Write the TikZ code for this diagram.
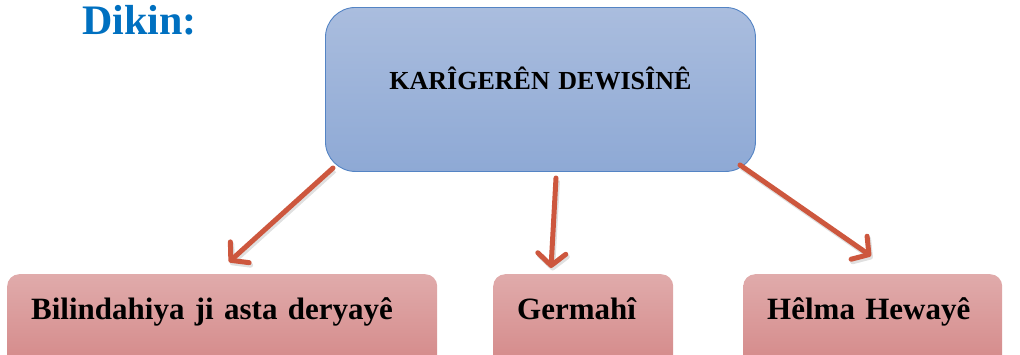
\documentclass[tikz,border=0pt]{standalone}
\usepackage{fontspec}
\setmainfont{Liberation Serif}
\usetikzlibrary{arrows.meta}
\definecolor{dikinblue}{RGB}{0,112,192}
\definecolor{topA}{RGB}{170,189,222}
\definecolor{topB}{RGB}{142,169,213}
\definecolor{topline}{RGB}{84,132,196}
\definecolor{boxA}{RGB}{224,171,171}
\definecolor{boxB}{RGB}{212,136,136}
\definecolor{arrowc}{RGB}{205,87,62}
\tikzset{
  mainbox/.style={draw=topline, line width=0.9pt, rounded corners=30pt,
    top color=topA, bottom color=topB, inner sep=0pt, anchor=north west,
    align=center, font=\fontsize{26}{30}\selectfont\bfseries},
  subbox/.style={rounded corners=12pt, top color=boxA, bottom color=boxB,
    inner xsep=24pt, inner ysep=0pt, anchor=north west, align=left,
    text height=45pt, text depth=50pt,
    font=\fontsize{31}{36}\selectfont\bfseries},
  conn/.style={arrowc, line width=5pt, line cap=round,
    -{Straight Barb[length=12pt,width=28pt,line cap=round,line join=round]},
    preaction={draw=black!35, opacity=0.35, line width=5pt,
      transform canvas={shift={(1.5pt,-2.5pt)}}}}
}
\begin{document}
\begin{tikzpicture}[x=1pt,y=-1pt]
\useasboundingbox (0,0) rectangle (1020,354);
\node[anchor=base west, text=dikinblue, font=\fontsize{42}{48}\selectfont\bfseries] (dikin) at (79,34) {Dikin:};
\node[mainbox, text width=430pt, text height=82pt, text depth=82pt] (top) at (325,7) {KARÎGERÊN DEWISÎNÊ};
\node[subbox, text width=382pt] (b1) at (7,274) {Bilindahiya ji asta deryayê};
\node[subbox, text width=132pt] (b2) at (493,274) {Germahî};
\node[subbox, text width=211pt] (b3) at (743,274) {Hêlma Hewayê};
\coordinate (s1) at (333,168);
\coordinate (e1) at (229,262);
\coordinate (s2) at (556,178);
\coordinate (e2) at (551,268);
\coordinate (s3) at (740,165);
\coordinate (e3) at (871,256);
\draw[conn] (s1) -- (e1);
\draw[conn] (s2) -- (e2);
\draw[conn] (s3) -- (e3);
\end{tikzpicture}
\end{document}
